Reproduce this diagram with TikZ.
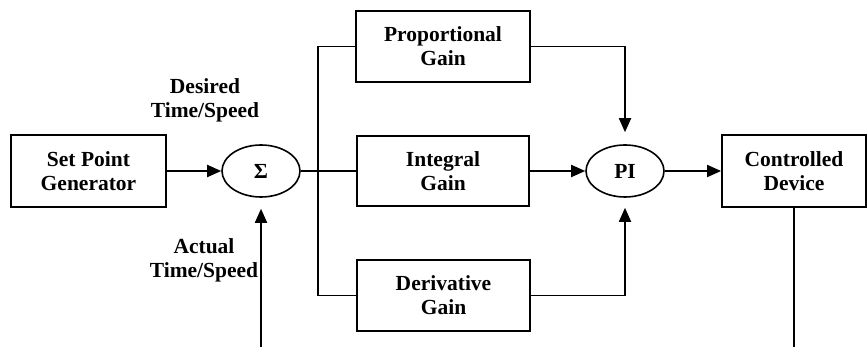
\documentclass[tikz,border=0pt]{standalone}
\usepackage{fontspec}
\setmainfont{Liberation Serif}
\usetikzlibrary{arrows.meta,shapes.geometric}
\tikzset{
  txt/.style={font=\fontsize{21.5}{24}\selectfont\bfseries},
  blk/.style={txt,draw,line width=1.8pt,rectangle,inner sep=0pt,align=center},
  summer/.style={txt,draw,line width=1.6pt,ellipse,inner sep=0pt,minimum width=78pt,minimum height=52pt},
  lbl/.style={txt,inner sep=0pt,align=center},
  wire/.style={line width=1.8pt},
  arr/.style={line width=1.8pt,-{Triangle[length=14pt,width=12pt]}}
}
\begin{document}
\begin{tikzpicture}[x=1pt,y=-1pt]
\useasboundingbox (0,0) rectangle (867,347);
\node[blk,minimum width=155pt,minimum height=72pt] (spg) at (88.5,171) {Set Point\\Generator};
\node[summer] (sigma) at (261,171) {Σ};
\node[blk,minimum width=174pt,minimum height=71pt] (prop) at (443,46.5) {Proportional\\Gain};
\node[blk,minimum width=172pt,minimum height=70pt] (integ) at (443,171) {Integral\\Gain};
\node[blk,minimum width=173pt,minimum height=71pt] (deriv) at (443.5,295.5) {Derivative\\Gain};
\node[summer] (pi) at (625,171) {PI};
\node[blk,minimum width=144pt,minimum height=72pt] (cd) at (794,171) {Controlled\\Device};
\node[lbl] (desired) at (205,100) {Desired\\Time/Speed};
\node[lbl] (actual) at (204,260) {Actual\\Time/Speed};
\coordinate (fb) at (261,347);
\coordinate (junc) at (318,171);
\coordinate (cdout) at (794,347);
% connectors
\draw[arr] (spg.east) -- (sigma.west);
\draw[arr,shorten >=11pt] (fb) -- (sigma.south);
\draw[wire] (sigma.east) -- (integ.west);
\draw[wire] (prop.west) -| (junc) |- (deriv.west);
\draw[arr,shorten >=12pt] (prop.east) -| (pi.north);
\draw[arr] (integ.east) -- (pi.west);
\draw[arr,shorten >=10pt] (deriv.east) -| (pi.south);
\draw[arr] (pi.east) -- (cd.west);
\draw[wire] (cd.south) -- (cdout);
\end{tikzpicture}
\end{document}
